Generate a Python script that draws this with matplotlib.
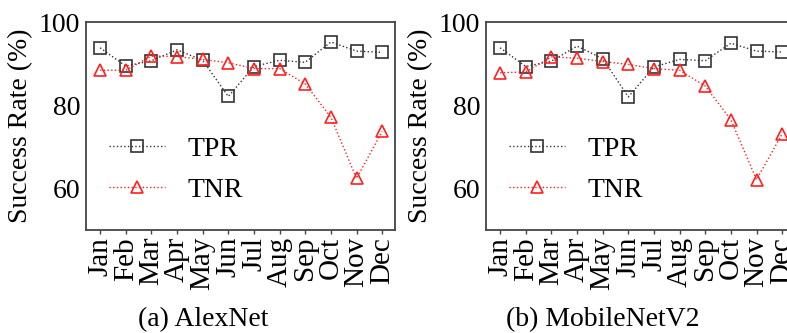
import matplotlib
matplotlib.use("Agg")
import matplotlib.pyplot as plt

plt.rcParams['font.family'] = ['Liberation Serif', 'DejaVu Serif']
plt.rcParams['mathtext.fontset'] = 'stix'

months = ["Jan", "Feb", "Mar", "Apr", "May", "Jun", "Jul", "Aug", "Sep", "Oct", "Nov", "Dec"]

alexnet_tpr = [93.8, 89.4, 90.7, 93.3, 90.8, 82.1, 89.3, 90.8, 90.3, 95.2, 93.0, 92.7]
alexnet_tnr = [88.4, 88.4, 91.8, 91.7, 91.0, 90.2, 88.8, 88.8, 85.1, 77.1, 62.4, 73.7]

mobilenet_tpr = [93.8, 89.3, 90.6, 94.2, 91.2, 82.0, 89.2, 91.0, 90.7, 94.9, 93.0, 92.8]
mobilenet_tnr = [87.8, 88.0, 91.6, 91.3, 90.5, 89.8, 88.8, 88.4, 84.6, 76.5, 62.1, 73.1]

captions = ["(a) AlexNet", "(b) MobileNetV2"]
panels = [(alexnet_tpr, alexnet_tnr), (mobilenet_tpr, mobilenet_tnr)]

W, H = 787, 333
fig = plt.figure(figsize=(W / 100, H / 100), dpi=100)

fs = 20
lefts = [86, 486]
for i, (tpr, tnr) in enumerate(panels):
    ax = fig.add_axes([lefts[i] / W, (H - 230) / H, 309 / W, 208 / H])
    x = list(range(len(months)))
    ax.plot(x, tpr, linestyle=':', color='#333333', linewidth=1.0, marker='s',
            markersize=8, markerfacecolor='none', markeredgecolor='#333333',
            markeredgewidth=1.2, label='TPR')
    ax.plot(x, tnr, linestyle=':', color='#ff2020', linewidth=1.0, marker='^',
            markersize=9, markerfacecolor='none', markeredgecolor='#ff2020',
            markeredgewidth=1.2, label='TNR')
    ax.set_ylim(50, 100)
    ax.set_xlim(-0.55, 11.5)
    ax.set_yticks([60, 80, 100])
    ax.set_xticks(x)
    ax.set_xticklabels(months, rotation=90, fontsize=21)
    ax.tick_params(axis='y', labelsize=fs, length=0, pad=4)
    ax.tick_params(axis='x', length=3, width=1, pad=2, color='#444444')
    for s in ax.spines.values():
        s.set_color('#444444')
        s.set_linewidth(1.3)
    ax.set_ylabel("Success Rate (%)", fontsize=fs, labelpad=4)
    ax.legend(loc='center left', bbox_to_anchor=(0.04, 0.29), frameon=False,
              fontsize=fs, borderaxespad=0, handlelength=2.0, handletextpad=0.8,
              labelspacing=0.57)
    fig.text((lefts[i] + 117) / W, (H - 320) / H, captions[i],
             ha='center', va='center', fontsize=fs)

fig.savefig("out.png", dpi=100)
